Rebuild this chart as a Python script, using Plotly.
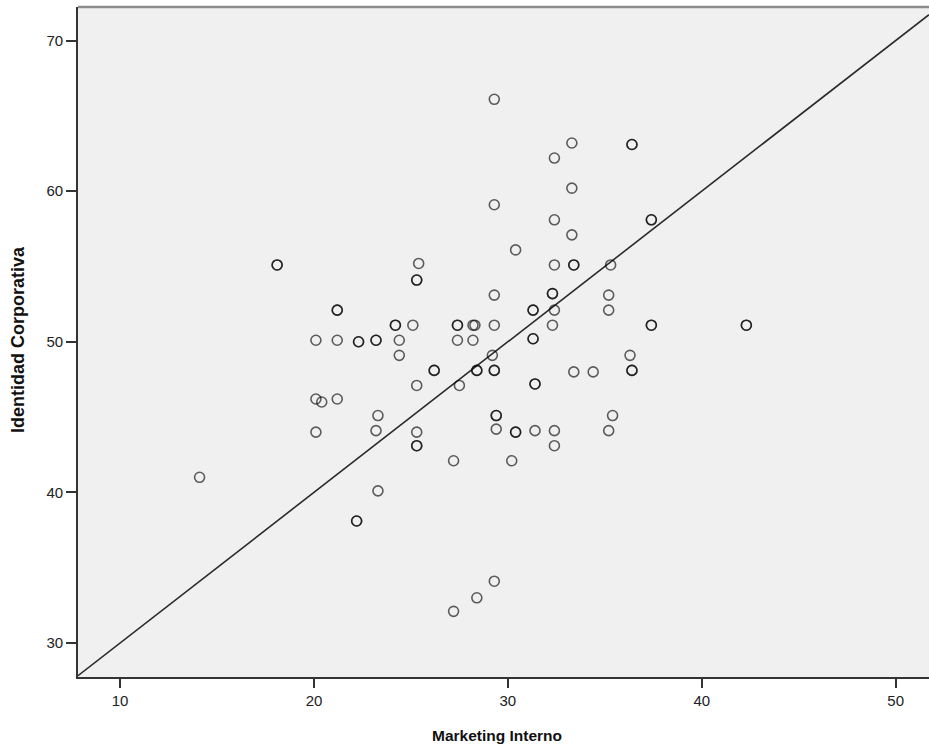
import plotly.graph_objects as go

# ---- data ----
marketing_interno = [
    14.1, 18.1, 18.1, 20.1, 20.1, 20.4, 20.1, 21.2, 21.2, 21.2, 21.2,
    22.3, 22.3, 22.2, 22.2, 23.2, 23.2, 23.3, 23.2, 23.3,
    24.2, 24.2, 24.4, 24.4, 25.1, 25.4, 25.3, 25.3, 25.3, 25.3, 25.3, 25.3,
    26.2, 26.2, 27.4, 27.4, 27.4, 27.5, 27.2, 27.2,
    28.2, 28.3, 28.4, 28.4, 28.2, 28.4,
    29.3, 29.3, 29.3, 29.3, 29.3, 29.2, 29.3, 29.3, 29.4, 29.4, 29.4,
    30.4, 30.4, 30.4, 30.2,
    31.3, 31.3, 31.3, 31.3, 31.4, 31.4, 31.4,
    32.4, 32.4, 32.4, 32.3, 32.3, 32.4, 32.3, 32.4, 32.4,
    33.3, 33.3, 33.3, 33.4, 33.4, 33.4,
    34.4, 35.3, 35.2, 35.2, 35.4, 35.2,
    36.4, 36.4, 36.3, 36.4, 36.4,
    37.4, 37.4, 37.4, 37.4, 42.3, 42.3,
]
identidad_corporativa = [
    41.0, 55.1, 55.1, 50.1, 46.2, 46.0, 44.0, 52.1, 52.1, 50.1, 46.2,
    50.0, 50.0, 38.1, 38.1, 50.1, 50.1, 45.1, 44.1, 40.1,
    51.1, 51.1, 50.1, 49.1, 51.1, 55.2, 54.1, 54.1, 47.1, 44.0, 43.1, 43.1,
    48.1, 48.1, 51.1, 51.1, 50.1, 47.1, 42.1, 32.1,
    51.1, 51.1, 48.1, 48.1, 50.1, 33.0,
    66.1, 59.1, 53.1, 51.1, 48.1, 49.1, 48.1, 34.1, 45.1, 45.1, 44.2,
    56.1, 44.0, 44.0, 42.1,
    52.1, 52.1, 50.2, 50.2, 47.2, 47.2, 44.1,
    62.2, 58.1, 55.1, 53.2, 53.2, 52.1, 51.1, 44.1, 43.1,
    63.2, 60.2, 57.1, 55.1, 55.1, 48.0,
    48.0, 55.1, 53.1, 52.1, 45.1, 44.1,
    63.1, 63.1, 49.1, 48.1, 48.1,
    58.1, 58.1, 51.1, 51.1, 51.1, 51.1,
]
# reference line drawn in the chart: Identidad = intercept + slope * Marketing
ref_intercept = 20
ref_slope = 1

x_ticks = [10, 20, 30, 40, 50]
y_ticks = [30, 40, 50, 60, 70]
x_range = [7.83, 51.72]
y_range = [27.74, 72.23]

x_title = "Marketing Interno"
y_title = "Identidad Corporativa"

FONT = "Liberation Sans, Arial, sans-serif"

fig = go.Figure()

line_x = x_range
line_y = [ref_intercept + ref_slope * v for v in line_x]
fig.add_trace(go.Scatter(
    x=line_x, y=line_y, mode="lines",
    line=dict(color="#2a2a2a", width=1.6),
    hoverinfo="skip", showlegend=False,
))

fig.add_trace(go.Scatter(
    x=marketing_interno, y=identidad_corporativa, mode="markers",
    marker=dict(symbol="circle-open", size=10,
                color="rgba(0,0,0,0.62)",
                line=dict(width=1.6, color="rgba(0,0,0,0.62)")),
    showlegend=False,
))

fig.update_layout(
    width=929, height=751,
    margin=dict(l=78, r=0, t=7, b=74, pad=0),
    paper_bgcolor="white",
    plot_bgcolor="#F0F0F0",
    font=dict(family=FONT, color="#222222", size=15),
    showlegend=False,
)

fig.update_xaxes(
    range=x_range, tickvals=x_ticks, ticktext=[str(v) for v in x_ticks],
    showgrid=False, zeroline=False,
    showline=True, linecolor="#333333", linewidth=1.6,
    ticks="outside", ticklen=9, tickwidth=1.5, tickcolor="#333333",
    tickfont=dict(family=FONT, size=15, color="#222222"),
)
fig.update_yaxes(
    range=y_range, tickvals=y_ticks, ticktext=[str(v) for v in y_ticks],
    showgrid=False, zeroline=False,
    showline=True, linecolor="#333333", linewidth=1.6,
    ticks="outside", ticklen=10, tickwidth=1.5, tickcolor="#333333",
    tickfont=dict(family=FONT, size=15, color="#222222"),
)

# top border of the plot frame (gray)
fig.add_shape(type="line", xref="paper", yref="paper",
              x0=0, x1=1, y0=1, y1=1,
              line=dict(color="#8C8C8C", width=2.5))

fig.add_annotation(text="<b>" + x_title + "</b>", xref="paper", yref="paper",
                   x=0.492, y=-0.0866, xanchor="center", yanchor="middle",
                   showarrow=False, font=dict(family=FONT, size=15.5, color="#111111"))
fig.add_annotation(text="<b>" + y_title + "</b>", xref="paper", yref="paper",
                   x=-0.0705, y=0.503, xanchor="center", yanchor="middle",
                   textangle=-90,
                   showarrow=False, font=dict(family=FONT, size=18, color="#111111"))

fig.write_html(
    "out.html",
    config={"displayModeBar": False},
    post_script="document.body.style.margin='0';document.body.style.overflow='hidden';",
)
